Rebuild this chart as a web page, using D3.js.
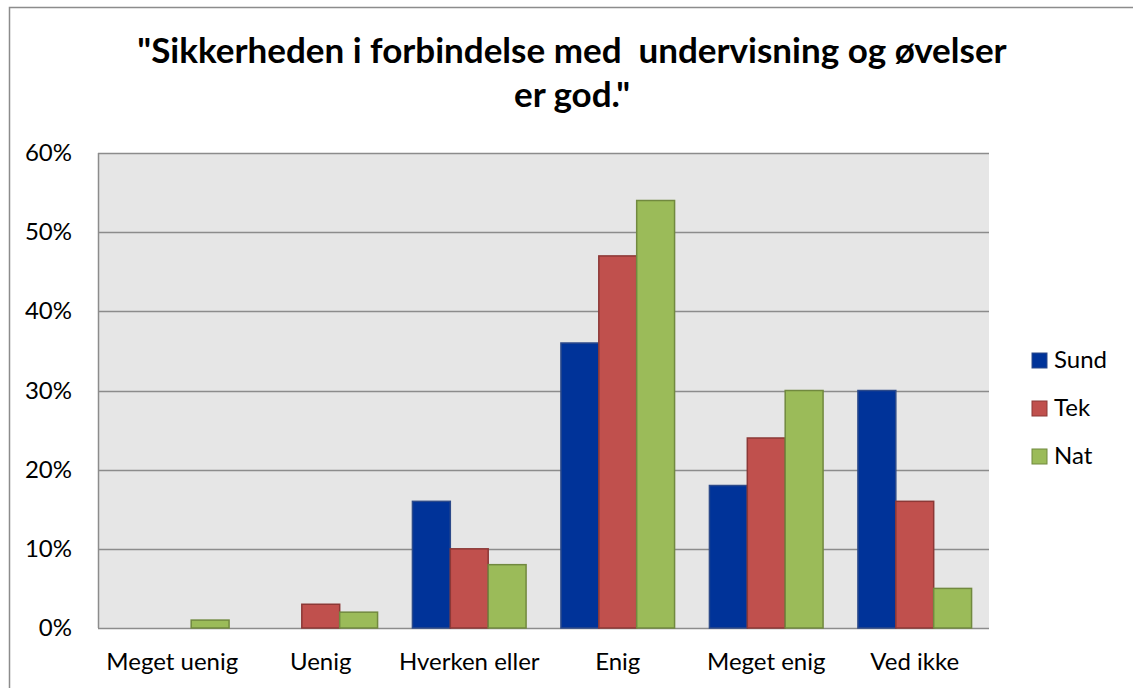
<!DOCTYPE html>
<html>
<head>
<meta charset="utf-8">
<script src="https://cdn.jsdelivr.net/npm/d3@7"></script>
<style>
  body { margin: 0; background: #fff; }
  text { font-family: Lato, "Open Sans", sans-serif; white-space: pre; }
</style>
</head>
<body>
<div id="chart"></div>
<script>
// answer categories and series (shares, in %)
var categories = ['Meget uenig', 'Uenig', 'Hverken eller', 'Enig', 'Meget enig', 'Ved ikke'];
var seriesNames = ['Sund', 'Tek', 'Nat'];
var sund = [0, 0, 16, 36, 18, 30];
var tek = [0, 3, 10, 47, 24, 16];
var nat = [1, 2, 8, 54, 30, 5];
var yTicks = [0, 10, 20, 30, 40, 50, 60];

var fills = ['#003399', '#C0504D', '#9BBB59'];
var strokes = ['#2c4a8a', '#8c3836', '#71893f'];

var width = 1133, height = 688;
var plot = {left: 98, top: 153, right: 989, bottom: 628};

var svg = d3.select('#chart').append('svg').attr('width', width).attr('height', height);

// outer frame (runs off the right and bottom edge)
svg.append('rect').attr('x', 9.5).attr('y', 7.5).attr('width', 1140).attr('height', 700)
  .attr('fill', '#fff').attr('stroke', '#8c8c8c').attr('stroke-width', 1.5);

// title
svg.append('text').attr('x', 572).attr('y', 63).attr('text-anchor', 'middle')
  .attr('font-size', 35).attr('font-weight', 'bold')
  .text('"Sikkerheden i forbindelse med  undervisning og øvelser');
svg.append('text').attr('x', 572).attr('y', 107).attr('text-anchor', 'middle')
  .attr('font-size', 35).attr('font-weight', 'bold')
  .text('er god."');

var x = d3.scaleBand().domain(categories).range([plot.left, plot.right]).paddingInner(0).paddingOuter(0);
var inner = d3.scaleBand().domain(seriesNames).range([0, x.bandwidth()]).paddingInner(0).paddingOuter(0.46);
var y = d3.scaleLinear().domain([0, 60]).range([plot.bottom, plot.top]);

svg.append('rect').attr('x', plot.left).attr('y', plot.top)
  .attr('width', plot.right - plot.left).attr('height', plot.bottom - plot.top)
  .attr('fill', '#e6e6e6');

// gridlines
svg.append('g').selectAll('line').data(yTicks).join('line')
  .attr('x1', plot.left).attr('x2', plot.right)
  .attr('y1', function (d) { return Math.round(y(d)) + 0.5; })
  .attr('y2', function (d) { return Math.round(y(d)) + 0.5; })
  .attr('stroke', '#8c8c8c').attr('stroke-width', 1.5);

// left axis line
svg.append('line').attr('x1', plot.left + 0.5).attr('x2', plot.left + 0.5)
  .attr('y1', plot.top).attr('y2', plot.bottom)
  .attr('stroke', '#8c8c8c').attr('stroke-width', 1.5);

// y labels
svg.append('g').selectAll('text').data(yTicks).join('text')
  .attr('x', 72).attr('y', function (d) { return y(d) + 8; })
  .attr('text-anchor', 'end').attr('font-size', 24)
  .text(function (d) { return d + '%'; });

// bars
var allSeries = [sund, tek, nat];
allSeries.forEach(function (vals, s) {
  svg.append('g').selectAll('rect').data(vals).join('rect')
    .attr('x', function (d, i) { return x(categories[i]) + inner(seriesNames[s]); })
    .attr('y', function (d) { return y(d); })
    .attr('width', inner.bandwidth())
    .attr('height', function (d) { return y(0) - y(d); })
    .attr('fill', fills[s])
    .attr('stroke', function (d) { return d > 0 ? strokes[s] : 'none'; })
    .attr('stroke-width', 1.5);
});

// x labels
svg.append('g').selectAll('text').data(categories).join('text')
  .attr('x', function (d) { return x(d) + x.bandwidth() / 2; })
  .attr('y', 670).attr('text-anchor', 'middle').attr('font-size', 24)
  .text(function (d) { return d; });

// legend
var legend = svg.append('g').selectAll('g').data(seriesNames).join('g')
  .attr('transform', function (d, i) { return 'translate(1032,' + (353 + i * 48) + ')'; });
legend.append('rect').attr('width', 15).attr('height', 15)
  .attr('fill', function (d, i) { return fills[i]; })
  .attr('stroke', function (d, i) { return strokes[i]; });
legend.append('text').attr('x', 22).attr('y', 15).attr('font-size', 24)
  .text(function (d) { return d; });
</script>
</body>
</html>
